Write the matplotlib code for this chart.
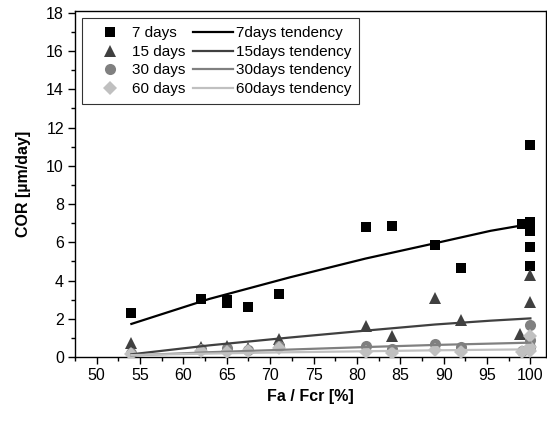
import matplotlib
matplotlib.use("Agg")
import matplotlib.pyplot as plt
from matplotlib.ticker import MultipleLocator
from matplotlib.lines import Line2D

plt.rcParams['font.family'] = ['Liberation Sans', 'DejaVu Sans']

# --- data ---
x7 = [54, 62, 65, 65, 67.4, 71, 81, 84, 89, 92, 99, 100, 100, 100, 100, 100]
y7 = [2.3, 3.05, 3.0, 2.8, 2.6, 3.3, 6.8, 6.85, 5.85, 4.65, 6.95, 11.1, 7.05, 6.6, 5.75, 4.75]

x15 = [54, 62, 65, 67.4, 71, 81, 84, 89, 92, 98.8, 100, 100]
y15 = [0.75, 0.5, 0.6, 0.45, 0.95, 1.6, 1.1, 3.1, 1.95, 1.2, 4.3, 2.9]

x30 = [54, 62, 65, 67.4, 71, 81, 84, 89, 92, 99, 100, 100, 100]
y30 = [0.2, 0.4, 0.45, 0.35, 0.6, 0.6, 0.4, 0.7, 0.5, 0.3, 1.65, 0.9, 0.5]

x60 = [54, 62, 65, 67.4, 71, 81, 84, 89, 92, 99, 100, 100, 100]
y60 = [0.15, 0.3, 0.25, 0.3, 0.45, 0.25, 0.2, 0.35, 0.25, 0.25, 1.1, 0.5, 0.3]

# tendency lines
tx = [54, 63, 72.3, 81, 89, 95.4, 100]
t7 = [1.73, 3.04, 4.17, 5.15, 5.95, 6.6, 6.96]
t15 = [0.14, 0.61, 1.02, 1.38, 1.70, 1.90, 2.02]
t30 = [0.08, 0.25, 0.39, 0.52, 0.63, 0.70, 0.75]
t60 = [0.10, 0.18, 0.25, 0.30, 0.35, 0.38, 0.40]

labels_pts = ['7 days', '15 days', '30 days', '60 days']
labels_lines = ['7days tendency', '15days tendency', '30days tendency', '60days tendency']
colors = ['#000000', '#404040', '#808080', '#c0c0c0']
markers = ['s', '^', 'o', 'D']
msizes = [7.5, 9, 8, 7]

fig = plt.figure(figsize=(5.47, 4.23), dpi=100)
ax = fig.add_axes([75/547, 66/423, 471/547, 346/423])

pts = [(x7, y7), (x15, y15), (x30, y30), (x60, y60)]
for (xs, ys), c, m, ms in zip(pts, colors, markers, msizes):
    ax.plot(xs, ys, linestyle='none', marker=m, color=c, markersize=ms,
            markeredgewidth=0, zorder=3)

for ys, c in zip([t7, t15, t30, t60], colors):
    ax.plot(tx, ys, color=c, linewidth=1.6, zorder=4)

ax.set_xlim(47.5, 101.8)
ax.set_ylim(0, 18.1)
ax.xaxis.set_major_locator(MultipleLocator(5))
ax.xaxis.set_minor_locator(MultipleLocator(2.5))
ax.yaxis.set_major_locator(MultipleLocator(2))
ax.yaxis.set_minor_locator(MultipleLocator(1))
ax.tick_params(which='both', direction='out', top=False, right=False,
               labelsize=11.5, width=1.0, pad=3)
ax.tick_params(which='major', length=5)
ax.tick_params(which='minor', length=3)
for s in ax.spines.values():
    s.set_linewidth(1.0)

ax.set_xlabel('Fa / Fcr [%]', fontsize=11.5, fontweight='bold', labelpad=4)
ax.set_ylabel('COR [µm/day]', fontsize=11.5, fontweight='bold', labelpad=11)

handles = []
for c, m, ms, lab in zip(colors, markers, msizes, labels_pts):
    handles.append(Line2D([], [], linestyle='none', marker=m, color=c,
                          markersize=ms, markeredgewidth=0, label=lab))
for c, lab in zip(colors, labels_lines):
    handles.append(Line2D([], [], color=c, linewidth=1.6, label=lab))

leg = ax.legend(handles=handles, ncol=2, loc='upper left',
                bbox_to_anchor=(0.015, 0.98), fontsize=11,
                frameon=True, fancybox=False, edgecolor='black',
                handlelength=2.6, handletextpad=0.15, columnspacing=0.5,
                labelspacing=0.3, borderpad=0.55, borderaxespad=0)
leg.get_frame().set_linewidth(0.8)

fig.savefig('out.png', dpi=100)
